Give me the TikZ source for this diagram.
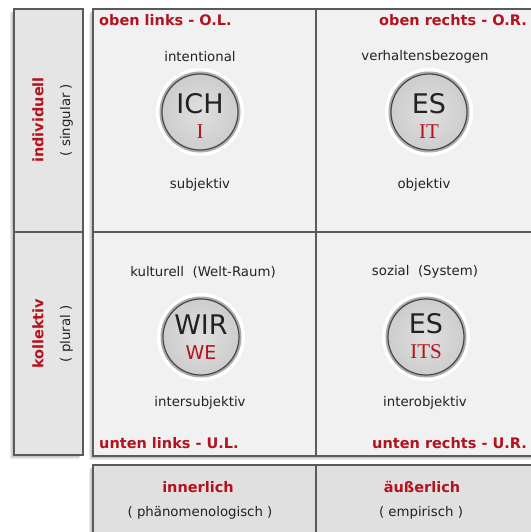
\documentclass[tikz,border=0pt]{standalone}
\usepackage{fontspec}
\setmainfont{DejaVu Sans}
\newfontfamily\serifred{Liberation Serif}
\definecolor{lred}{HTML}{B3121E}
\definecolor{cellbg}{HTML}{F1F1F1}
\definecolor{sidebg}{HTML}{E5E5E5}
\definecolor{bordc}{HTML}{5A5A5A}
\definecolor{txt}{HTML}{222222}
\definecolor{circin}{HTML}{E0E0E0}
\definecolor{circout}{HTML}{CDCDCD}
\begin{document}
\begin{tikzpicture}[x=1pt,y=-1pt,
  cell/.style={draw=bordc, line width=1.3pt, fill=cellbg, inner sep=0, rectangle},
  side/.style={cell, fill=sidebg},
  lbl/.style={font=\fontsize{13.3}{15}\selectfont, text=txt, inner sep=0},
  hd/.style={font=\fontsize{14.5}{17}\selectfont\bfseries, text=lred, inner sep=0},
  big/.style={font=\fontsize{27}{30}\selectfont, text=txt, inner sep=0},
  sub/.style={font=\fontsize{21}{23}\selectfont\serifred, text=lred, inner sep=0},
  subsans/.style={font=\fontsize{19}{22}\selectfont, text=lred, inner sep=0},
  disc/.style={circle, minimum size=76pt, inner sep=0, draw=bordc!80!black, line width=1.2pt,
    inner color=circin, outer color=circout},
  halo/.style={fill=white},
  ring/.style={draw=gray!65, line width=4pt},
  shad/.style={fill=black, opacity=0.08}]
\useasboundingbox (0,0) rectangle (530,532);
\fill[white] (0,0) rectangle (530,532);
% soft shadows
\foreach \d in {1,2,3,4}{
  \fill[shad] (14-\d,9+\d) rectangle (83-\d,455+\d);
  \fill[shad] (93-\d,9+\d) rectangle (540,456+\d);
  \fill[shad] (93-\d,465+\d) rectangle (540,540);
}
% left column
\node[side, minimum width=69pt, minimum height=223pt] (lu) at (48.5,120.5) {};
\node[side, minimum width=69pt, minimum height=223pt] (ll) at (48.5,343.5) {};
% main grid
\node[cell, minimum width=223pt, minimum height=223pt] (ol) at (204.5,120.5) {};
\node[cell, minimum width=224pt, minimum height=223pt] (or) at (428,120.5) {};
\node[cell, minimum width=223pt, minimum height=224pt] (ul) at (204.5,344) {};
\node[cell, minimum width=224pt, minimum height=224pt] (ur) at (428,344) {};
% bottom row
\node[side, fill=sidebg!98!black, minimum width=223pt, minimum height=75pt] (bl) at (204.5,502.5) {};
\node[side, fill=sidebg!98!black, minimum width=224pt, minimum height=75pt] (br) at (428,502.5) {};
% left column texts
\node[hd, rotate=90] (indiv) at (38,120) {individuell};
\node[lbl, rotate=90] (sing) at (66.5,120) {( singular )};
\node[hd, rotate=90] (koll) at (38,334) {kollektiv};
\node[lbl, rotate=90] (plur) at (66.5,334) {( plural )};
% corner labels
\node[hd, anchor=west] (tol) at (99,20) {oben links - O.L.};
\node[hd, anchor=east] (tor) at (527,20) {oben rechts - O.R.};
\node[hd, anchor=west] (tul) at (99,443) {unten links - U.L.};
\node[hd, anchor=east] (tur) at (527,443) {unten rechts - U.R.};
% quadrant texts
\node[lbl] (intent) at (200,57) {intentional};
\node[lbl] (subj) at (200,185) {subjektiv};
\node[lbl] (verh) at (425,57) {verhaltensbezogen};
\node[lbl] (obj) at (424,185) {objektiv};
\node[lbl] (kult) at (203,272) {kulturell~~(Welt-Raum)};
\node[lbl] (inters) at (200,403) {intersubjektiv};
\node[lbl] (soz) at (425,272) {sozial~~(System)};
\node[lbl] (intero) at (425,403) {interobjektiv};
% discs
\foreach \n/\cx/\cy in {c1/200/112, c2/429/112, c3/201/337, c4/426/337}{
  \fill[halo] (\cx,\cy) circle (44pt);
  \draw[ring] (\cx,\cy) circle (38.5pt);
  \node[disc] (\n) at (\cx,\cy) {};
}
\node[big] (ich) at (200,104) {ICH};
\node[sub] (ii) at (200,132) {I};
\node[big] (es1) at (429,104) {ES};
\node[sub] (it) at (429,132) {IT};
\node[big] (wir) at (201,325) {WIR};
\node[subsans] (we) at (201,353) {WE};
\node[big] (es2) at (426,324) {ES};
\node[sub] (its) at (426,352) {ITS};
% bottom texts
\node[hd] (inner) at (198,487) {innerlich};
\node[lbl] (phaen) at (200,513) {( phänomenologisch )};
\node[hd] (aeuss) at (422,487) {äußerlich};
\node[lbl] (emp) at (421,513) {( empirisch )};
\end{tikzpicture}
\end{document}
